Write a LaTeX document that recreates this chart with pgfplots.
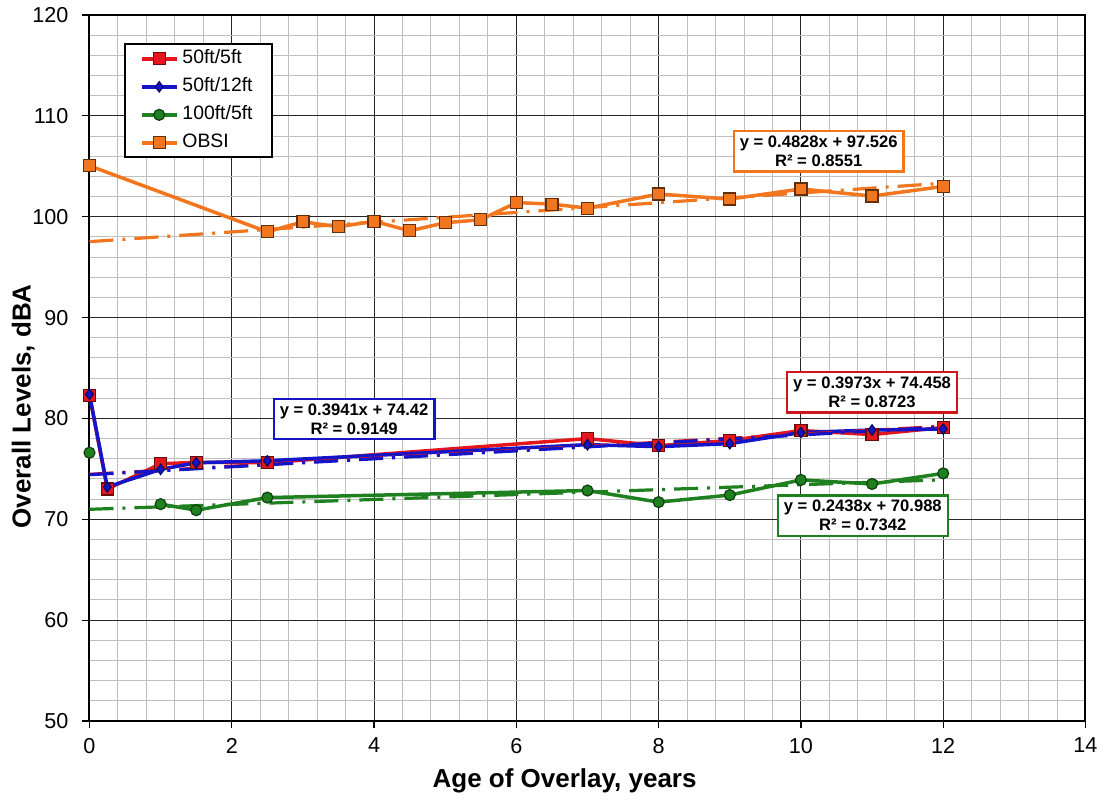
\documentclass[border=0pt]{standalone}
\usepackage{fontspec}
\setmainfont{Liberation Sans}
\usepackage{pgfplots}
\pgfplotsset{compat=1.18}
\definecolor{myred}{RGB}{228,24,28}
\definecolor{myblue}{RGB}{20,20,200}
\definecolor{mygreen}{RGB}{30,128,30}
\definecolor{myorange}{RGB}{242,118,30}
\begin{document}
\begin{tikzpicture}
\begin{axis}[
  at={(0,0)}, anchor=south west,
  scale only axis, width=498pt, height=353pt,
  xmin=0, xmax=14, ymin=50, ymax=120,
  xtick={0,2,...,14}, ytick={50,60,...,120},
  minor x tick num=4, minor y tick num=4,
  grid=both,
  major grid style={black!85, line width=0.5pt},
  minor grid style={black!25, line width=0.5pt},
  axis line style={black, line width=1pt},
  tick align=outside, xtick pos=bottom, ytick pos=left,
  major tick length=3.5pt, minor tick length=0pt,
  tick style={black, line width=0.6pt},
  /pgf/number format/assume math mode=true,
  ticklabel style={font=\fontsize{10.8}{13}\selectfont},
  yticklabel style={xshift=-3.5pt},
  xticklabel style={yshift=-1.5pt},
  xlabel={Age of Overlay, years},
  ylabel={Overall Levels, dBA},
  xlabel style={font=\bfseries\fontsize{13}{15.6}\selectfont, at={(axis description cs:0.477,-0.0949)}, anchor=base},
  ylabel style={font=\bfseries\fontsize{13}{15.6}\selectfont, at={(axis description cs:-0.0592,0.4455)}, anchor=base},
  unbounded coords=jump,
  legend cell align=left,
  legend style={at={(rel axis cs:0.0346,0.96)}, anchor=north west, draw=black, line width=1pt,
    font=\fontsize{9.7}{11.6}\selectfont, inner xsep=7.5pt, inner ysep=0.3pt, row sep=0pt,
    nodes={inner ysep=2.5pt, text height=7pt, text depth=2pt}},
  legend image code/.code={\draw[mark repeat=2,mark phase=2,#1] plot coordinates {(0pt,0pt) (8.75pt,0pt) (17.5pt,0pt)};},
]
\addplot[myred, line width=1.75pt, mark=square*, mark size=3pt, mark options={solid, fill=myred, draw=myred!45!black, line width=0.6pt}] coordinates {
(0,82.3) (0.25,73.0) (1,75.5) (1.5,75.65) (2.5,75.6) (7,78.0) (8,77.3) (9,77.8) (10,78.8) (11,78.4) (12,79.1)};
\addlegendentry{50ft/5ft}
\addplot[myblue, line width=1.75pt, mark=diamond*, mark size=2.6pt, mark options={solid, fill=myblue, draw=myblue!50!black, line width=0.6pt}] coordinates {
(0,82.4) (0.25,73.2) (1,74.95) (1.5,75.6) (2.5,75.8) (7,77.4) (8,77.2) (9,77.5) (10,78.6) (11,78.85) (12,78.95)};
\addlegendentry{50ft/12ft}
\addplot[mygreen, line width=1.75pt, mark=*, mark size=2.75pt, mark options={solid, fill=mygreen, draw=mygreen!50!black, line width=0.6pt}] coordinates {
(0,76.6) (0.5,nan) (1,71.5) (1.5,70.9) (2.5,72.15) (7,72.85) (8,71.7) (9,72.4) (10,73.9) (11,73.5) (12,74.55)};
\addlegendentry{100ft/5ft}
\addplot[myorange, line width=1.75pt, mark=square*, mark size=3pt, mark options={solid, fill=myorange, draw=myorange!40!black, line width=0.6pt}] coordinates {
(0,105.05) (2.5,98.5) (3,99.5) (3.5,99.0) (4,99.55) (4.5,98.6) (5,99.4) (5.5,99.7) (6,101.4) (6.5,101.25) (7,100.85) (8,102.25) (9,101.75) (10,102.75) (11,102.05) (12,103.0)};
\addlegendentry{OBSI}
% trend lines
\addplot[forget plot, myred, line width=1.6pt, dash pattern={on 12pt off 4.5pt on 1.5pt off 4.5pt}] coordinates {(0,74.458) (12,79.226)};
\addplot[forget plot, myblue, line width=1.6pt, dash pattern={on 12pt off 4.5pt on 1.5pt off 4.5pt}] coordinates {(0,74.42) (12,79.149)};
\addplot[forget plot, mygreen, line width=1.6pt, dash pattern={on 12pt off 4.5pt on 1.5pt off 4.5pt}] coordinates {(0,70.988) (12,73.914)};
\addplot[forget plot, myorange, line width=1.6pt, dash pattern={on 12pt off 4.5pt on 1.5pt off 4.5pt}] coordinates {(0,97.526) (12,103.32)};
% equation boxes
\node[draw=myorange, line width=1.2pt, fill=white, align=center, font=\bfseries\fontsize{8.3}{9.7}\selectfont, inner xsep=3pt, inner ysep=2.3pt] at (axis cs:10.25,106.5) {y = 0.4828x + 97.526\\R² = 0.8551};
\node[draw=myred!90!black, line width=1.2pt, fill=white, align=center, font=\bfseries\fontsize{8.3}{9.7}\selectfont, inner xsep=3pt, inner ysep=2.3pt] at (axis cs:11.0,82.6) {y = 0.3973x + 74.458\\R² = 0.8723};
\node[draw=mygreen, line width=1.2pt, fill=white, align=center, font=\bfseries\fontsize{8.3}{9.7}\selectfont, inner xsep=3pt, inner ysep=2.3pt] at (axis cs:10.87,70.37) {y = 0.2438x + 70.988\\R² = 0.7342};
\node[draw=myblue, line width=1.2pt, fill=white, align=center, font=\bfseries\fontsize{8.3}{9.7}\selectfont, inner xsep=3pt, inner ysep=2.3pt] at (axis cs:3.72,79.94) {y = 0.3941x + 74.42\\R² = 0.9149};
\end{axis}
\pgfresetboundingbox
\useasboundingbox (-44.75pt,-40pt) rectangle (507.75pt,360.5pt);
\end{tikzpicture}
\end{document}
